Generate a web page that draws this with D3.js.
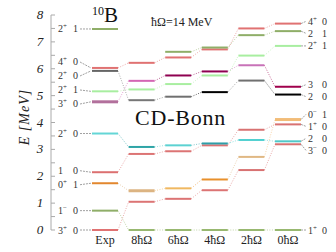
<!DOCTYPE html>
<html><head><meta charset="utf-8">
<script src="https://cdn.jsdelivr.net/npm/d3@7"></script>
<style>body{margin:0;background:#fff}svg{display:block}text{font-family:"Liberation Serif","Times New Roman",serif}</style>
</head><body>
<svg id="c" width="336" height="252"></svg>
<script>
// ---- data ----
const columns = ["Exp","8ħΩ","6ħΩ","4ħΩ","2ħΩ","0ħΩ"];
// states (same order in every column)
const expLevels = [0.00, 0.72, 1.74, 2.15, 3.59, 4.77, 5.16, 5.92, 6.03, 7.48];
const hw8Levels = [1.05, 0.00, 1.46, 2.83, 3.09, 5.55, 5.23, 4.83, 6.22, null];
const hw6Levels = [1.16, 0.00, 1.55, 2.93, 3.15, 5.75, 5.43, 4.96, 6.42, 6.63];
const hw4Levels = [1.48, 0.00, 1.88, 3.15, 3.22, 5.90, 5.75, 5.13, 6.72, 6.79];
const hw2Levels = [2.23, 0.00, 2.72, 3.73, 3.35, 6.13, 6.49, 5.56, 7.50, 7.25];
const hw0Levels = [3.19, 0.00, 4.11, 3.93, 3.30, 5.33, 6.85, 5.04, 7.68, 7.40];
const expJ = ["3+","1-","0+","1","2+","3+","2+","2+","4+","2+"];
const expT = ["0","0","1","0","0","0","1","0","0","1"];
const thJ  = ["3-","1+","0-","1+","2","3","2+","2","4+","2"];
const thT  = ["0","0","1","0","0","0","1","0","0","1"];
const yTicks = [0,1,2,3,4,5,6,7,8];
const allLevels = [expLevels,hw8Levels,hw6Levels,hw4Levels,hw2Levels,hw0Levels];

// ---- styles ----
const colColors = [
 ["#e07272","#8fae68","#e2872e","#dc7070","#64d6d6","#b2709c","#a8eea0","#666666","#e07272","#8fae68"],
 ["#dc7474","#98b870","#dcb482","#dc7474","#2ea4a6","#d466b4","#a8eea0","#777777","#e07272","#8fae68"],
 ["#dc7474","#98b870","#f0b860","#dc7474","#5cd2d2","#8e0050","#a8eea0","#707070","#e07272","#8fae68"],
 ["#dc7474","#98b870","#e8902c","#dc7474","#2e9ea8","#8e0050","#a8eea0","#000000","#e07272","#8fae68"],
 ["#d87272","#98b870","#e0b884","#d87272","#50d0d0","#c872b8","#a8eea0","#707070","#e07272","#8fae68"],
 ["#d87272","#98b870","#f2bc78","#d87272","#50c8c8","#a0004c","#a8eea0","#000000","#e07272","#8fae68"]
];
const thick = [[0,5],[1,2],[5,2]];

const svg = d3.select("#c");
const y = d3.scaleLinear().domain([0,8]).range([230,15]);
const x = d3.scalePoint().domain(columns).range([105,288]);
const hw = 13;

// axis
const ax = svg.append("g").attr("transform","translate(51,0)");
ax.append("line").attr("x1",0).attr("x2",0).attr("y1",y(8)).attr("y2",y(0)).attr("stroke","#aaa");
ax.selectAll("line.t").data(d3.range(0,8.01,0.5)).enter().append("line")
  .attr("x1",0).attr("x2",4).attr("y1",d=>y(d)).attr("y2",d=>y(d)).attr("stroke","#aaa");
ax.selectAll("text.t").data(yTicks).enter().append("text")
  .attr("x",-11).attr("y",d=>y(d)+4).attr("text-anchor","middle")
  .attr("font-size",13).attr("font-style","italic").attr("fill","#222").text(d=>d);
svg.append("text").attr("transform","translate(29,117) rotate(-90)").attr("text-anchor","middle")
  .attr("font-size",14).attr("font-style","italic").attr("fill","#222").attr("letter-spacing",1).text("E [MeV]");

// connectors between columns
for (let c=0;c<columns.length-1;c++){
  const a=allLevels[c], b=allLevels[c+1];
  a.forEach((v,i)=>{
    if(v==null||b[i]==null) return;
    svg.append("line").attr("x1",x(columns[c])+hw).attr("y1",y(v))
      .attr("x2",x(columns[c+1])-hw).attr("y2",y(b[i]))
      .attr("stroke",colColors[c+1][i]).attr("stroke-opacity",0.6)
      .attr("stroke-width",1).attr("stroke-dasharray","1,1.5");
  });
}
// levels
allLevels.forEach((lv,c)=>{
  lv.forEach((v,i)=>{
    if(v==null) return;
    const t = thick.some(p=>p[0]===c&&p[1]===i);
    svg.append("line").attr("x1",x(columns[c])-hw).attr("x2",x(columns[c])+hw)
      .attr("y1",y(v)).attr("y2",y(v)).attr("stroke",colColors[c][i]).attr("stroke-width",t?3:2);
  });
});

function spread(vals,gap){
  const idx=vals.map((v,i)=>i).sort((a,b)=>vals[b]-vals[a]);
  const pos=vals.map(v=>y(v));
  for(let it=0;it<200;it++){
    for(let k=0;k<idx.length-1;k++){
      const a=idx[k],b=idx[k+1];
      const d=pos[b]-pos[a];
      if(d<gap){const m=(gap-d)/2;pos[a]-=m;pos[b]+=m;}
    }
  }
  return pos;
}
function jp(sel,s){
  const base=s.replace(/[+-]/g,""), sign=s.match(/[+-]/);
  sel.append("tspan").text(base);
  if(sign) sel.append("tspan").attr("font-size",7).attr("dy",-4).text(sign[0]==="+"?"+":"−");
}
// left labels
const lp = spread(expLevels,14);
expLevels.forEach((v,i)=>{
  const ly=lp[i];
  const t=svg.append("text").attr("x",58).attr("y",ly+3.5).attr("font-size",10).attr("fill","#333");
  jp(t,expJ[i]);
  svg.append("text").attr("x",73).attr("y",ly+3.5).attr("font-size",10).attr("fill","#333").text(expT[i]);
  svg.append("line").attr("x1",80).attr("y1",ly).attr("x2",91).attr("y2",y(v))
    .attr("stroke","#888").attr("stroke-width",0.8).attr("stroke-dasharray","2,1");
});
// right labels
const rp = spread(hw0Levels,12);
hw0Levels.forEach((v,i)=>{
  const ly=rp[i];
  const t=svg.append("text").attr("x",308).attr("y",ly+3.5).attr("font-size",10).attr("fill","#333");
  jp(t,thJ[i]);
  svg.append("text").attr("x",322).attr("y",ly+3.5).attr("font-size",10).attr("fill","#333").text(thT[i]);
  svg.append("line").attr("x1",x("0ħΩ")+hw).attr("y1",y(v)).attr("x2",306).attr("y2",ly)
    .attr("stroke","#888").attr("stroke-width",0.8).attr("stroke-dasharray","2,1");
});
// x labels
svg.selectAll("text.xl").data(columns).enter().append("text")
  .attr("x",d=>x(d)).attr("y",244).attr("text-anchor","middle").attr("font-size",12).attr("fill","#222").text(d=>d);
// titles
const tt=svg.append("text").attr("x",92).attr("y",22).attr("fill","#111");
tt.append("tspan").attr("font-size",12).attr("dy",-7).text("10");
tt.append("tspan").attr("font-size",21).attr("dy",7).text("B");
svg.append("text").attr("x",151).attr("y",26).attr("font-size",12).attr("fill","#222").text("ħΩ=14 MeV");
svg.append("text").attr("x",135).attr("y",125).attr("font-size",22).attr("letter-spacing",0.8).attr("fill","#111").text("CD-Bonn");
</script>
</body></html>
